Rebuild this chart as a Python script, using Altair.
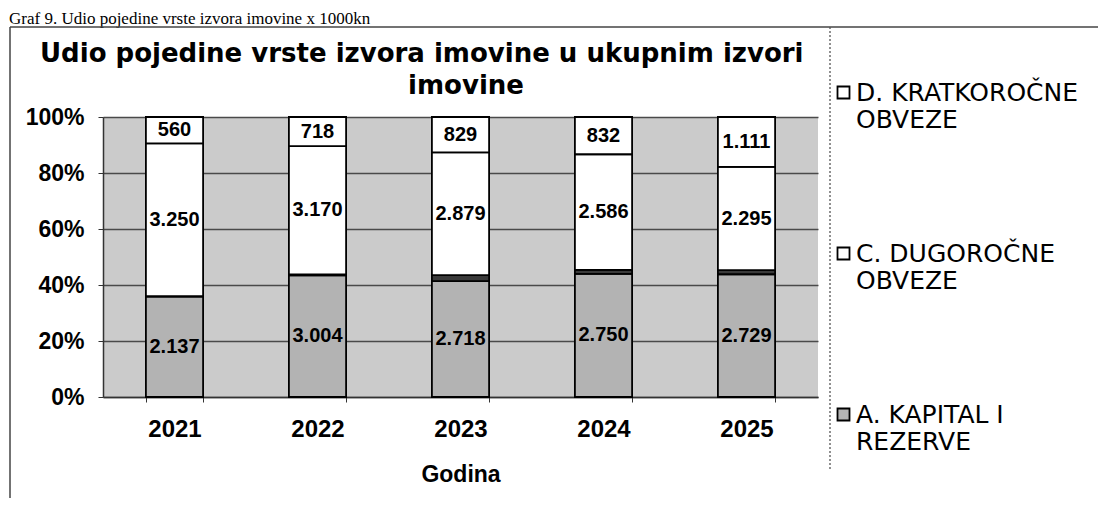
import altair as alt
import pandas as pd

# ---- data ----
years = ["2021", "2022", "2023", "2024", "2025"]
series = [
    "D. KRATKOROČNE OBVEZE",
    "C. DUGOROČNE OBVEZE",
    "B. DUGOROČNA REZERVIRANJA",
    "A. KAPITAL I REZERVE",
]
kapital = [2137, 3004, 2718, 2750, 2729]
rezerviranja = [10, 20, 140, 90, 90]
dugorocne = [3250, 3170, 2879, 2586, 2295]
kratkorocne = [560, 718, 829, 832, 1111]
legend_series = ["D. KRATKOROČNE OBVEZE", "C. DUGOROČNE OBVEZE", "A. KAPITAL I REZERVE"]
colors = ["#ffffff", "#ffffff", "#3a3a3a", "#b3b3b3"]

caption = "Graf 9. Udio pojedine vrste izvora imovine x 1000kn"
title_line1 = "Udio pojedine vrste izvora imovine u ukupnim izvori"
title_line2 = "imovine"
x_title = "Godina"

# ---- table ----
rows = []
per_series = {
    "A. KAPITAL I REZERVE": (kapital, 0, True),
    "B. DUGOROČNA REZERVIRANJA": (rezerviranja, 1, False),
    "C. DUGOROČNE OBVEZE": (dugorocne, 2, True),
    "D. KRATKOROČNE OBVEZE": (kratkorocne, 3, True),
}
for name, (vals, order, show) in per_series.items():
    for y, v in zip(years, vals):
        rows.append({
            "year": y,
            "series": name,
            "value": v,
            "order": order,
            "label": f"{v:,}".replace(",", ".") if show else "",
        })
df = pd.DataFrame(rows)

base = (
    alt.Chart(df)
    .transform_stack(
        stack="value",
        groupby=["year"],
        as_=["y0", "y1"],
        offset="normalize",
        sort=[alt.SortField("order", order="ascending")],
    )
    .transform_calculate(mid="(datum.y0 + datum.y1) / 2")
)

x_enc = alt.X(
    "year:N",
    sort=years,
    scale=alt.Scale(paddingInner=0.6, paddingOuter=0.3),
    axis=alt.Axis(
        title=x_title,
        labelAngle=0,
        tickBand="extent",
        tickSize=5,
        tickColor="#333333",
        domainColor="#333333",
        domainWidth=1.5,
        labelFont="Liberation Sans",
        labelFontSize=24,
        labelFontWeight="bold",
        labelColor="black",
        labelPadding=15,
        titleFont="Liberation Sans",
        titleFontSize=23,
        titleFontWeight="bold",
        titleColor="black",
        titlePadding=22,
    ),
)

bars = base.mark_bar(stroke="black", strokeWidth=1.8).encode(
    x=x_enc,
    y=alt.Y(
        "y0:Q",
        scale=alt.Scale(domain=[0, 1]),
        axis=alt.Axis(
            title=None,
            format=".0%",
            values=[0, 0.2, 0.4, 0.6, 0.8, 1.0],
            grid=True,
            gridColor="#4a4a4a",
            gridWidth=1.3,
            domainColor="#333333",
            domainWidth=1.5,
            tickColor="#333333",
            tickSize=5,
            labelFont="Liberation Sans",
            labelFontSize=23,
            labelFontWeight="bold",
            labelColor="black",
            labelPadding=14,
        ),
    ),
    y2="y1:Q",
    color=alt.Color(
        "series:N",
        scale=alt.Scale(domain=series, range=colors),
        legend=alt.Legend(
            values=legend_series,
            title=None,
            orient="none",
            legendX=728,
            legendY=-37,
            direction="vertical",
            rowPadding=108,
            labelFont="DejaVu Sans",
            labelFontSize=25,
            labelColor="black",
            labelLimit=400,
            labelOffset=0,
            labelBaseline="middle",
            symbolType="square",
            symbolSize=144,
            symbolStrokeColor="black",
            symbolStrokeWidth=1.8,
            labelExpr="datum.label == 'A. KAPITAL I REZERVE' ? ['A. KAPITAL I', 'REZERVE'] : [replace(datum.label, ' OBVEZE', ''), 'OBVEZE']",
        ),
    ),
)

labels = base.transform_filter("datum.label != ''").mark_text(
    font="Liberation Sans", fontSize=20, fontWeight="bold", color="black", baseline="middle"
).encode(
    x=alt.X("year:N", sort=years),
    y=alt.Y("mid:Q"),
    text="label:N",
)

deco = pd.DataFrame({"k": [0]})

cap = alt.Chart(deco).mark_text(
    font="Liberation Serif", fontSize=17, align="left", baseline="alphabetic", color="black"
).encode(x=alt.value(-94), y=alt.value(-93), text=alt.value(caption))

t1 = alt.Chart(deco).mark_text(
    font="DejaVu Sans", fontSize=26, fontWeight="bold", align="left", baseline="middle", color="black"
).encode(x=alt.value(-63), y=alt.value(-63), text=alt.value(title_line1))

t2 = alt.Chart(deco).mark_text(
    font="DejaVu Sans", fontSize=26, fontWeight="bold", align="center", baseline="middle", color="black"
).encode(x=alt.value(363), y=alt.value(-31), text=alt.value(title_line2))

top_border = alt.Chart(deco).mark_rule(color="#444444", strokeWidth=1.5).encode(
    x=alt.value(-93), x2=alt.value(995), y=alt.value(-90)
)
left_border = alt.Chart(deco).mark_rule(color="#444444", strokeWidth=1.5).encode(
    x=alt.value(-93), y=alt.value(-90), y2=alt.value(381)
)
separator = alt.Chart(deco).mark_rule(color="#555555", strokeWidth=1.3, strokeDash=[2, 2]).encode(
    x=alt.value(727), y=alt.value(-90), y2=alt.value(353)
)

chart = (
    alt.layer(bars, labels, cap, t1, t2, top_border, left_border, separator)
    .properties(
        width=715,
        height=280,
        autosize=alt.AutoSizeParams(type="none"),
        padding={"left": 95, "top": 109, "right": 280, "bottom": 101},
        background="white",
    )
    .configure_view(fill="#cbcbcb", stroke=None)
)

chart.save("out.html", embed_options={"renderer": "svg", "actions": False})
